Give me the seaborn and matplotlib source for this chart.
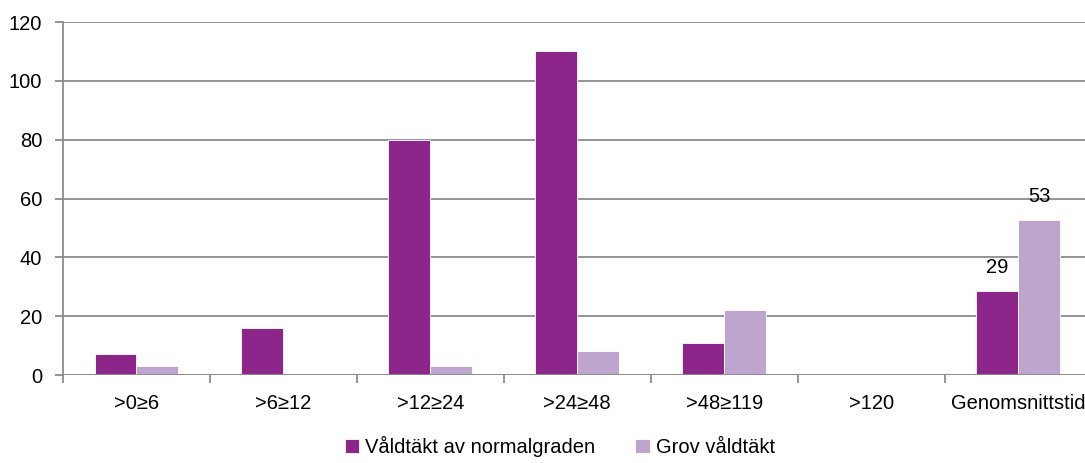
import numpy as np
import pandas as pd
import seaborn as sns
import matplotlib.pyplot as plt
from matplotlib.ticker import FixedLocator

categories = ['>0\u22656', '>6\u226512', '>12\u226524', '>24\u226548', '>48\u2265119', '>120', 'Genomsnittstid']
normal = [7, 16, 80, 110, 11, 0, 28.6]
grov = [3, 0, 3, 8, 22, 0, 52.6]
series = ['Våldtäkt av normalgraden', 'Grov våldtäkt']
labels_last = ['29', '53']

df = pd.DataFrame({
    'kategori': categories * 2,
    'varde': normal + grov,
    'typ': [series[0]] * len(categories) + [series[1]] * len(categories),
})

sns.set_style('white')
plt.rcParams['font.family'] = ['Liberation Sans', 'DejaVu Sans']
plt.rcParams['text.color'] = 'black'
plt.rcParams['xtick.labelcolor'] = 'black'
plt.rcParams['ytick.labelcolor'] = 'black'

fig = plt.figure(figsize=(10.85, 4.63), dpi=100)
ax = fig.add_axes([0.058, 0.19, 0.948, 0.7624])

pal = ['#8C268B', '#BEA5CD']
sns.barplot(data=df, x='kategori', y='varde', hue='typ', palette=pal, saturation=1,
            width=0.57, edgecolor='white', linewidth=0.6, ax=ax, zorder=3)

ax.set_ylim(0, 120)
ax.set_xlim(-0.5, len(categories) - 0.5)
ax.set_yticks(np.arange(0, 121, 20))
ax.grid(axis='y', color='#8c8c8c', linewidth=1.3, zorder=0)
ax.set_axisbelow(True)
for s in ['top', 'right', 'bottom']:
    ax.spines[s].set_visible(False)
ax.spines['left'].set_color('#8c8c8c')
ax.spines['left'].set_linewidth(1.3)
ax.axhline(0, color='#8c8c8c', linewidth=1.3, zorder=4)

fs = 14.5
ax.tick_params(axis='y', which='major', length=6, width=1.3, color='#8c8c8c',
               labelsize=fs, left=True, pad=9, labelcolor='black')
ax.tick_params(axis='x', which='major', length=0, labelsize=fs, pad=14, labelcolor='black')
ax.xaxis.set_minor_locator(FixedLocator(np.arange(-0.5, len(categories), 1)))
ax.tick_params(axis='x', which='minor', length=6, width=1.3, color='#8c8c8c', bottom=True)
ax.set_xlabel('')
ax.set_ylabel('')

# labels above the average bars only
for cont, lab in zip(ax.containers, labels_last):
    bar = cont[-1]
    ax.annotate(lab, (bar.get_x() + bar.get_width() / 2, bar.get_height()),
                xytext=(0, 10), textcoords='offset points', ha='center', va='bottom',
                fontsize=fs, color='black')

leg = ax.legend(loc='center', bbox_to_anchor=(0.516, 0.035), bbox_transform=fig.transFigure,
                ncol=2, frameon=False, fontsize=fs, handlelength=0.7, handleheight=0.7,
                handletextpad=0.3, columnspacing=2.0, borderaxespad=0, borderpad=0.1)
for t in leg.get_texts():
    t.set_color('black')

fig.savefig('out.png', dpi=100)
